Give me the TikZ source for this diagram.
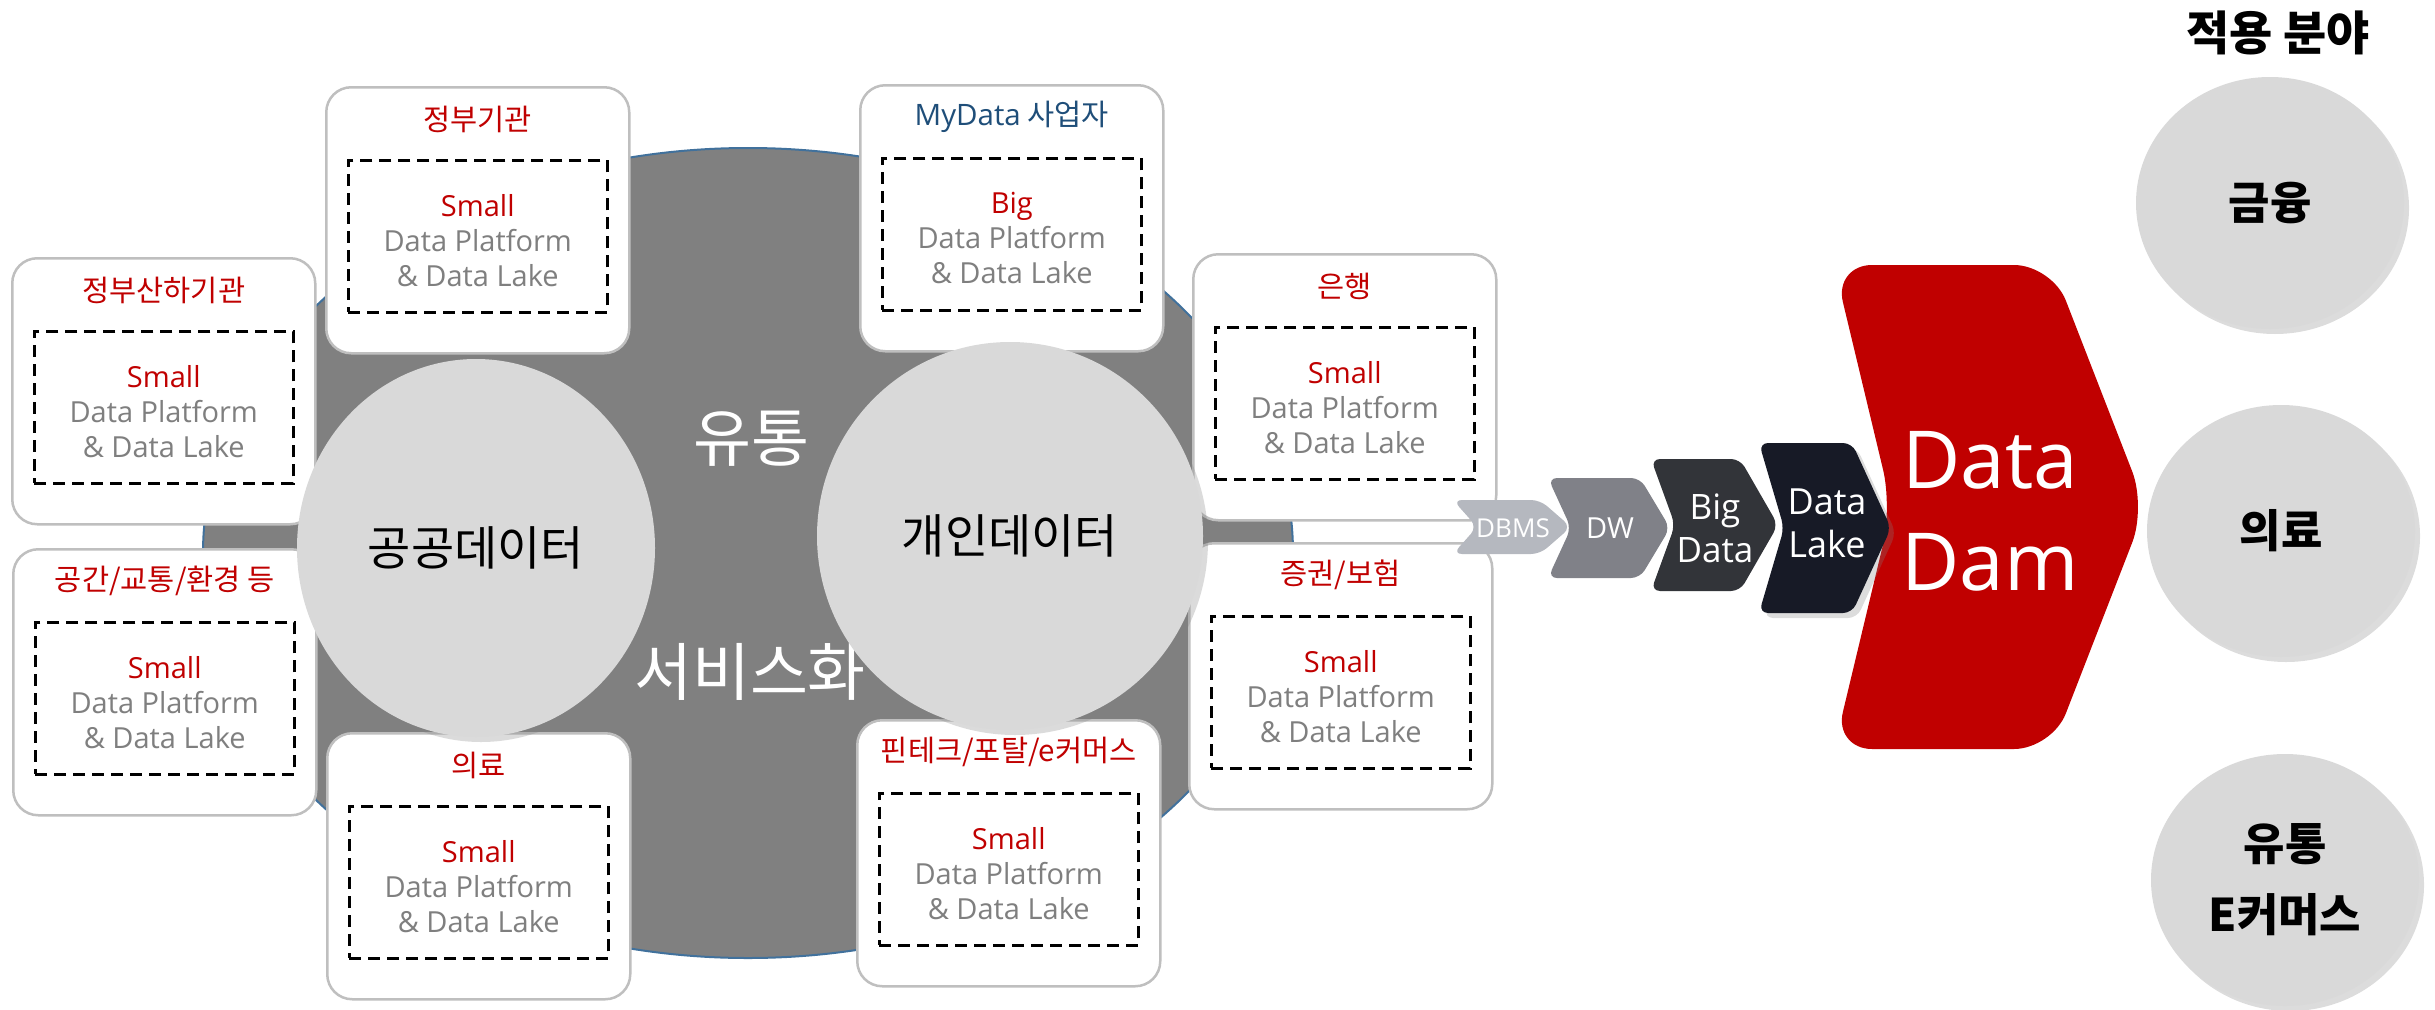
\documentclass[tikz,border=0pt]{standalone}
\usepackage{fontspec}
\setmainfont{Open Sans}
\newfontfamily\kr{Noto Sans CJK KR}
\usetikzlibrary{shapes.geometric,shadows}
\definecolor{ddred}{HTML}{C00000}
\definecolor{txtgray}{HTML}{7F7F7F}
\definecolor{lgray}{HTML}{D9D9D9}
\definecolor{bgray}{HTML}{808080}
\definecolor{edgeblue}{HTML}{41719C}
\definecolor{boxedge}{HTML}{BFBFBF}
\definecolor{mydblue}{HTML}{1F4E79}
\definecolor{cDBMS}{HTML}{B5B8BF}
\definecolor{cDW}{HTML}{808188}
\definecolor{cBig}{HTML}{323439}
\definecolor{cLake}{HTML}{171A26}
\tikzset{
  boxnode/.style={draw=boxedge, line width=2.5pt, fill=white, rounded corners=25pt,
    minimum width=303pt, minimum height=266pt, inner sep=0pt, anchor=north west},
  dashnode/.style={draw=black, line width=2.5pt, dash pattern=on 12pt off 7pt,
    minimum width=259pt, minimum height=152pt, inner sep=0pt, anchor=north west},
  titletext/.style={font=\kr\fontsize{29.5pt}{34pt}\selectfont, inner sep=0pt},
  bodytext/.style={font=\fontsize{29pt}{35pt}\selectfont, text=txtgray, align=center, inner sep=0pt},
  softshadow/.style={drop shadow={opacity=0.28, shadow xshift=5pt, shadow yshift=-5pt}},
  datacircle/.style={ellipse, fill=lgray, softshadow, inner sep=0pt,
    font=\kr\fontsize{47pt}{54pt}\selectfont},
  rellipse/.style={ellipse, fill=lgray, softshadow, inner sep=0pt, align=center,
    minimum width=268pt, minimum height=252pt,
    font=\kr\bfseries\fontsize{45pt}{71pt}\selectfont},
  chev/.style={rounded corners=9pt},
  chevtext/.style={text=white, align=center, inner sep=0pt},
  bigwhite/.style={text=white, inner sep=0pt, font=\kr\fontsize{63pt}{68pt}\selectfont}
}
\newcommand\infobox[6]{%
  \node[boxnode] (#1) at (#2,#3) {};
  \node[dashnode] (#1d) at ([xshift=22pt,yshift=-73pt]#1.north west) {};
  \node[titletext, text=#6] (#1t) at ([yshift=-33pt]#1.north) {#4};
  \node[bodytext] (#1b) at ([yshift=-4pt]#1d.center) {\textcolor{ddred}{#5}\\Data Platform\\\& Data Lake};
}
\begin{document}
\begin{tikzpicture}[x=1pt, y=-1pt]
\useasboundingbox (0,0) rectangle (2435,1009);

% central gray hub
\node[ellipse, minimum width=1090pt, minimum height=810pt, fill=bgray, draw=edgeblue, line width=2pt, inner sep=0pt] (hub) at (748,553) {};
\node[bigwhite] (yutong) at (751,439) {유통};
\node[bigwhite] (svc) at (750,672) {서비스화};

% information boxes
\infobox{gov}{325}{86}{정부기관}{Small}{ddred}
\infobox{govsub}{11}{257}{정부산하기관}{Small}{ddred}
\infobox{mydata}{859}{84}{{\rmfamily MyData} 사업자}{Big}{mydblue}
\infobox{bank}{1192}{253}{은행}{Small}{ddred}
\infobox{space}{12}{548}{공간/교통/환경 등}{Small}{ddred}
\infobox{med}{326}{732}{의료}{Small}{ddred}
\infobox{fin}{856}{719}{핀테크/포탈/e커머스}{Small}{ddred}
\infobox{sec}{1188}{542}{증권/보험}{Small}{ddred}

% data circles
\node[datacircle, minimum width=358pt, minimum height=378pt] (public) at (476,548) {공공데이터};
\node[datacircle, minimum width=386pt, minimum height=388pt] (personal) at (1010,536) {개인데이터};

% Data Dam
\path[fill=ddred, rounded corners=38pt] (1834,265) -- (2052,265) -- (2146,507) -- (2052,749) -- (1834,749) -- (1892,507) -- cycle;
\node[chevtext, font=\fontsize{80pt}{102pt}\selectfont] (dam) at (1990,511) {Data\\Dam};

% chevrons
\path[chev, fill=cDBMS] (1453,500) -- (1540,500) -- (1571,527) -- (1540,554) -- (1453,554) -- (1477,527) -- cycle;
\node[chevtext, font=\fontsize{26pt}{30pt}\selectfont] (dbms) at (1513,528) {DBMS};
\path[chev, fill=cDW] (1548,478) -- (1640,478) -- (1670,528) -- (1640,578) -- (1548,578) -- (1571,528) -- cycle;
\node[chevtext, font=\fontsize{29pt}{34pt}\selectfont] (dw) at (1610,528) {DW};
\path[chev, fill=cBig] (1651,459) -- (1740,459) -- (1778,525) -- (1740,591) -- (1651,591) -- (1675,525) -- cycle;
\node[chevtext, font=\fontsize{35pt}{43pt}\selectfont] (bigdata) at (1715,528) {Big\\Data};
\path[chev, fill=cLake, softshadow] (1759,443) -- (1852,443) -- (1891,528) -- (1852,613) -- (1759,613) -- (1784,528) -- cycle;
\node[chevtext, font=\fontsize{36pt}{43pt}\selectfont] (lake) at (1827,523) {Data\\Lake};

% application fields
\node[font=\kr\bfseries\fontsize{47pt}{52pt}\selectfont, inner sep=0pt] (apptitle) at (2278,33) {적용 분야};
\node[rellipse] (afin) at (2270,203) {금융};
\node[rellipse] (amed) at (2281,531) {의료};
\node[rellipse] (aret) at (2285,880) {유통\\E커머스};
\end{tikzpicture}
\end{document}
